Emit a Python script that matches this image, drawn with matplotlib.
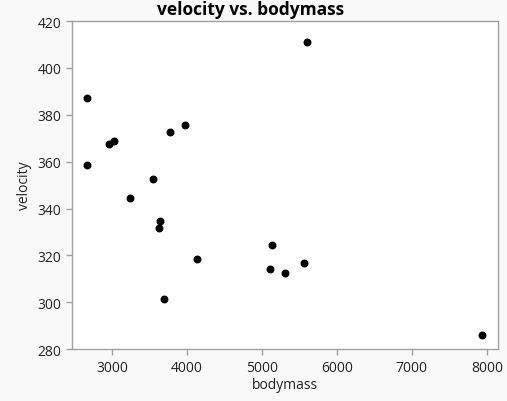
import matplotlib
matplotlib.use('Agg')
from matplotlib import pyplot as plt

bodymass = [5600, 2673, 3773, 3973, 2956, 3027, 2667, 3551, 3244,
            3644, 3622, 5137, 4133, 5102, 5311, 5560, 3693, 7929]
velocity = [411.0, 387.3, 372.5, 375.7, 367.5, 368.7, 358.8, 352.6, 344.6,
            334.5, 331.7, 324.5, 318.6, 314.2, 312.6, 316.7, 301.3, 286.1]

plt.rcParams['font.family'] = ['Open Sans', 'DejaVu Sans']

fig = plt.figure(figsize=(5.07, 4.02), dpi=100, facecolor='#f9f9f9')
ax = fig.add_axes([0.142, 0.129, 0.840, 0.816])
ax.set_facecolor('#ffffff')

ax.scatter(bodymass, velocity, s=22, color='#000000', zorder=3)

ax.set_xlim(2467, 8147)
ax.set_ylim(280, 420)
ax.set_xticks([3000, 4000, 5000, 6000, 7000, 8000])
ax.set_yticks([280, 300, 320, 340, 360, 380, 400, 420])

for s in ax.spines.values():
    s.set_color('#a0a0a0')
    s.set_linewidth(1)
ax.tick_params(colors='#a0a0a0', labelcolor='#222222', labelsize=10, length=4, width=1)

ax.set_xlabel('bodymass', fontsize=10, color='#222222', labelpad=2)
ax.set_ylabel('velocity', fontsize=10, color='#222222', labelpad=4)
# title is centred on the whole figure, not on the axes
fig.text(0.494, 0.997, 'velocity vs. bodymass', fontsize=12.5, fontweight='bold',
         color='#000000', ha='center', va='top')

fig.savefig('out.png', dpi=100, facecolor=fig.get_facecolor())
